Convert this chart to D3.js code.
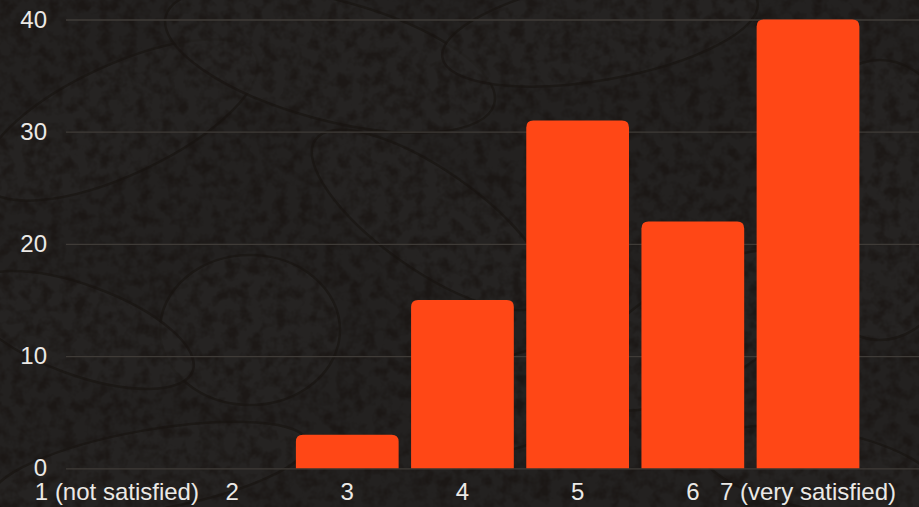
<!DOCTYPE html>
<html>
<head>
<meta charset="utf-8">
<script src="https://cdn.jsdelivr.net/npm/d3@7"></script>
<style>
  html, body { margin: 0; padding: 0; background: #201e1c; }
  svg { display: block; }
  .tick text { font-family: "Liberation Sans", Arial, sans-serif; fill: #ebe9e6; }
</style>
</head>
<body>
<svg id="chart"></svg>
<script>
const width = 919, height = 507;

// data
const categories = ["1 (not satisfied)", "2", "3", "4", "5", "6", "7 (very satisfied)"];
const counts = [0, 0, 3, 15, 31, 22, 40];
const yTicks = [0, 10, 20, 30, 40];

const svg = d3.select("#chart")
  .attr("width", width)
  .attr("height", height);

// --- background texture ---
const defs = svg.append("defs");
const noise = defs.append("filter").attr("id", "grain")
  .attr("color-interpolation-filters", "sRGB")
  .attr("x", 0).attr("y", 0).attr("width", "100%").attr("height", "100%");
noise.append("feTurbulence")
  .attr("type", "fractalNoise")
  .attr("baseFrequency", 0.08)
  .attr("numOctaves", 3)
  .attr("seed", 4)
  .attr("result", "n");
noise.append("feColorMatrix")
  .attr("in", "n")
  .attr("type", "matrix")
  .attr("values", "0 0 0 0 0.09  0 0 0 0 0.07  0 0 0 0 0.06  0 0 0 -3 1.75");

svg.append("rect")
  .attr("width", width).attr("height", height)
  .attr("fill", "#232120");

// faint paisley shapes
const leaves = [
  [120, 120, 150, 55, -25], [330, 60, 170, 60, 15], [600, 30, 160, 50, -10],
  [250, 330, 90, 75, 0], [80, 330, 120, 45, 20], [430, 220, 140, 50, 35],
  [700, 330, 130, 55, -30], [880, 200, 90, 140, 0], [150, 470, 160, 40, -10],
  [820, 470, 120, 40, 10], [520, 400, 110, 45, -20]
];
const bg = svg.append("g");
leaves.forEach(d => {
  bg.append("ellipse")
    .attr("cx", d[0]).attr("cy", d[1])
    .attr("rx", d[2]).attr("ry", d[3])
    .attr("transform", "rotate(" + d[4] + "," + d[0] + "," + d[1] + ")")
    .attr("fill", "#272524")
    .attr("stroke", "#1a1613")
    .attr("stroke-width", 2.5)
    .attr("opacity", 0.7);
});
svg.append("rect")
  .attr("width", width).attr("height", height)
  .attr("filter", "url(#grain)")
  .attr("opacity", 0.6);

// --- scales ---
const x = d3.scaleBand()
  .domain(categories)
  .range([59.3, 865.6])
  .paddingInner(0.108)
  .paddingOuter(0.054);

const y = d3.scaleLinear()
  .domain([0, 40])
  .range([468.3, 19.5]);

// y axis + gridlines
const yAxis = svg.append("g")
  .attr("transform", "translate(66,0)")
  .call(d3.axisLeft(y).tickValues(yTicks).tickSize(-(width - 66)).tickPadding(19));
yAxis.select(".domain").remove();
yAxis.selectAll(".tick line").attr("stroke", "#3f3b37").attr("stroke-width", 1.3);
yAxis.selectAll(".tick text").style("font-size", "24px");

// x axis
const xAxis = svg.append("g")
  .attr("transform", "translate(0," + y(0) + ")")
  .call(d3.axisBottom(x).tickSize(0).tickPadding(15));
xAxis.select(".domain").remove();
xAxis.selectAll(".tick text").style("font-size", "24px");

// bars with rounded tops
const r = 7;
const bars = categories.map((c, i) => ({ cat: c, value: counts[i] }))
  .filter(d => d.value > 0);
function barPath(d) {
  const x0 = x(d.cat), w = x.bandwidth();
  const y0 = y(0), y1 = y(d.value);
  const rr = Math.min(r, (y0 - y1));
  return "M" + x0 + "," + y0 +
    "V" + (y1 + rr) +
    "Q" + x0 + "," + y1 + " " + (x0 + rr) + "," + y1 +
    "H" + (x0 + w - rr) +
    "Q" + (x0 + w) + "," + y1 + " " + (x0 + w) + "," + (y1 + rr) +
    "V" + y0 + "Z";
}
svg.append("g")
  .selectAll("path")
  .data(bars)
  .join("path")
  .attr("d", barPath)
  .attr("fill", "#ff4716");
</script>
</body>
</html>
